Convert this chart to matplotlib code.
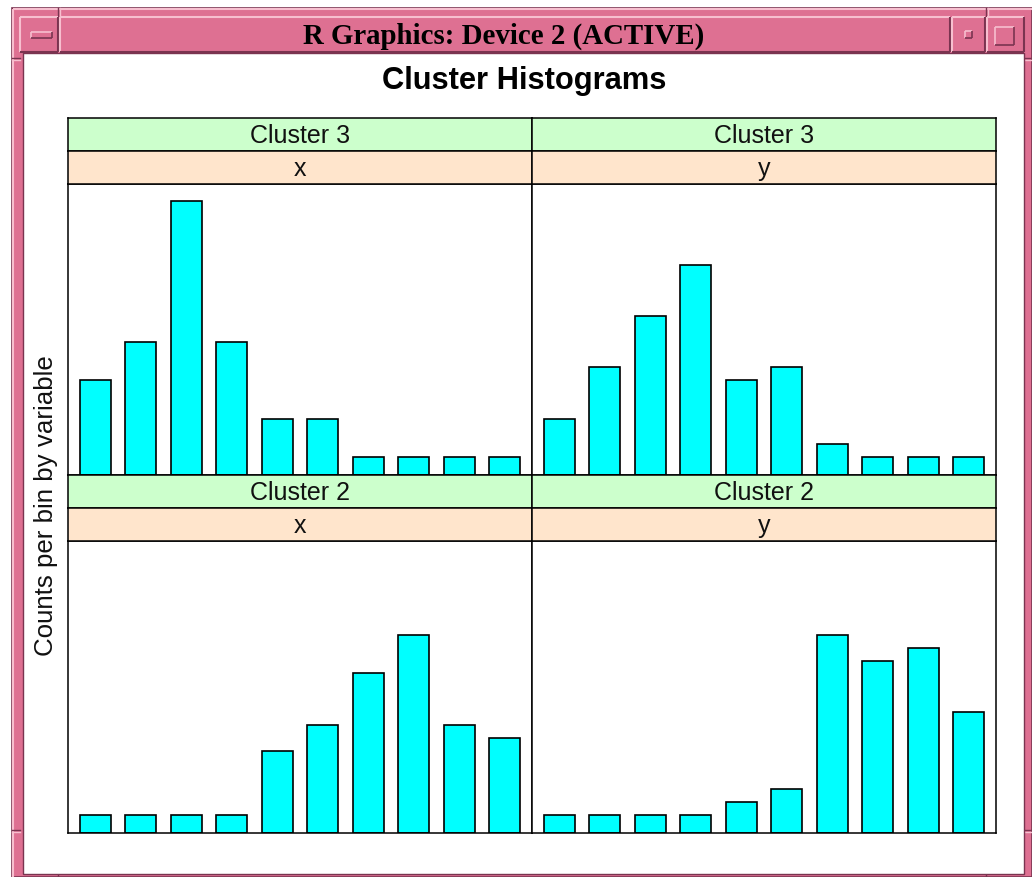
import matplotlib
matplotlib.use("Agg")
import matplotlib.pyplot as plt
from matplotlib.patches import Rectangle
import numpy as np

# ---- data ----
bins = list(range(1, 11))
clusters = ["Cluster 3", "Cluster 3", "Cluster 2", "Cluster 2"]
variables = ["x", "y", "x", "y"]
c3_x = [7, 10, 21, 10, 4, 4, 1, 1, 1, 1]
c3_y = [4, 8, 12, 16, 7, 8, 2, 1, 1, 1]
c2_x = [1, 1, 1, 1, 6, 8, 12, 15, 8, 7]
c2_y = [1, 1, 1, 1, 2, 3, 15, 13, 14, 9]
panel_counts = [c3_x, c3_y, c2_x, c2_y]

title = "Cluster Histograms"
ylabel = "Counts per bin by variable"
window_title = "R Graphics: Device 2 (ACTIVE)"

W, H = 1032, 877
fig = plt.figure(figsize=(W / 100, H / 100), dpi=100)
fig.patch.set_facecolor("white")

SANS = ["Liberation Sans", "DejaVu Sans"]
SERIF = ["Liberation Serif", "DejaVu Serif"]

# ---- window frame (background axes in pixel coordinates) ----
bg = fig.add_axes([0, 0, 1, 1])
bg.set_xlim(0, W)
bg.set_ylim(H, 0)
bg.axis("off")

PINK = "#DE7092"
LIGHT = "#F7BFCF"
DARK = "#7A3450"

def rect(x0, y0, x1, y1, fc, ec="none", lw=0, z=1):
    bg.add_patch(Rectangle((x0, y0), x1 - x0, y1 - y0, facecolor=fc,
                           edgecolor=ec, linewidth=lw, zorder=z))

def bevel(x0, y0, x1, y1, z=2, lw=1.5):
    bg.plot([x0, x1], [y0, y0], color=LIGHT, lw=lw, zorder=z, solid_capstyle="butt")
    bg.plot([x0, x0], [y0, y1], color=LIGHT, lw=lw, zorder=z, solid_capstyle="butt")
    bg.plot([x0, x1], [y1, y1], color=DARK, lw=lw, zorder=z, solid_capstyle="butt")
    bg.plot([x1, x1], [y0, y1], color=DARK, lw=lw, zorder=z, solid_capstyle="butt")

# outer frame
rect(12, 8, W, H, PINK, DARK, 1.2, z=1)
bevel(13, 9, W + 5, H + 5, z=2)
# corner notches
for xx in (58, 986):
    bg.plot([xx, xx], [8, 17], color=DARK, lw=1, zorder=3)
    bg.plot([xx + 1.5, xx + 1.5], [8, 17], color=LIGHT, lw=1, zorder=3)
for yy in (58, 830):
    bg.plot([12, 20], [yy, yy], color=DARK, lw=1, zorder=3)
    bg.plot([12, 20], [yy + 1.5, yy + 1.5], color=LIGHT, lw=1, zorder=3)
    bg.plot([1024, W], [yy, yy], color=DARK, lw=1, zorder=3)
    bg.plot([1024, W], [yy + 1.5, yy + 1.5], color=LIGHT, lw=1, zorder=3)
for xx in (58, 986):
    bg.plot([xx, xx], [874, H], color=DARK, lw=1, zorder=3)

# title bar segments
rect(20, 17, 58, 52, PINK, z=3)
bevel(20, 17, 58, 52, z=4)
rect(60, 17, 950, 52, PINK, z=3)
bevel(60, 17, 950, 52, z=4)
rect(952, 17, 985, 52, PINK, z=3)
bevel(952, 17, 985, 52, z=4)
rect(987, 17, 1024, 52, PINK, z=3)
bevel(987, 17, 1024, 52, z=4)
# button icons
bevel(31, 32, 52, 38, z=5, lw=1.2)
bevel(965, 31, 972, 38, z=5, lw=1.2)
bevel(995, 27, 1014, 45, z=5, lw=1.2)

bg.text(504, 36, window_title, ha="center", va="center", fontsize=20.8,
        fontweight="bold", family=SERIF, color="black", zorder=6)

# client area
rect(23, 53, 1024, 874, "white", DARK, 1.0, z=5)

# ---- chart ----
fig.text(524 / W, 1 - 81 / H, title, ha="center", va="center",
         fontsize=22.2, fontweight="bold", family=SANS)
fig.text(46 / W, 1 - 506 / H, ylabel, ha="center", va="center",
         rotation=90, fontsize=18.6, family=SANS, color="#111111")

def px_axes(x0, y0, x1, y1):
    return fig.add_axes([x0 / W, 1 - y1 / H, (x1 - x0) / W, (y1 - y0) / H])

GREEN = "#CCFFCC"
ORANGE = "#FFE5CC"
CYAN = "#00FFFF"
YMIN, YMAX = -0.4, 22.3

cols = [(68, 532), (532, 996)]
rows = [(118, 151, 184, 475), (475, 508, 541, 833)]

for i, counts in enumerate(panel_counts):
    r, c = divmod(i, 2)
    x0, x1 = cols[c]
    g0, g1, p0, p1 = rows[r]
    ax = px_axes(x0, p0, x1, p1)
    ax.bar(bins, np.array(counts) - YMIN, bottom=YMIN, width=0.68,
           color=CYAN, edgecolor="black", linewidth=1.2, zorder=2)
    ax.set_xlim(0.4, 10.6)
    ax.set_ylim(YMIN, YMAX)
    ax.set_xticks([])
    ax.set_yticks([])
    for s in ax.spines.values():
        s.set_linewidth(1.1)
        s.set_color("black")
        s.set_zorder(3)
    # strips
    for (s0, s1, colr, txt) in [(g0, g1, GREEN, clusters[i]),
                                 (g1, p0, ORANGE, variables[i])]:
        sa = px_axes(x0, s0, x1, s1)
        sa.set_facecolor(colr)
        sa.set_xticks([])
        sa.set_yticks([])
        for s in sa.spines.values():
            s.set_linewidth(1.1)
            s.set_color("black")
        sa.text(0.5, 0.45, txt, ha="center", va="center", fontsize=18,
                family=SANS, color="#111111", transform=sa.transAxes)

fig.savefig("out.png", dpi=100)
